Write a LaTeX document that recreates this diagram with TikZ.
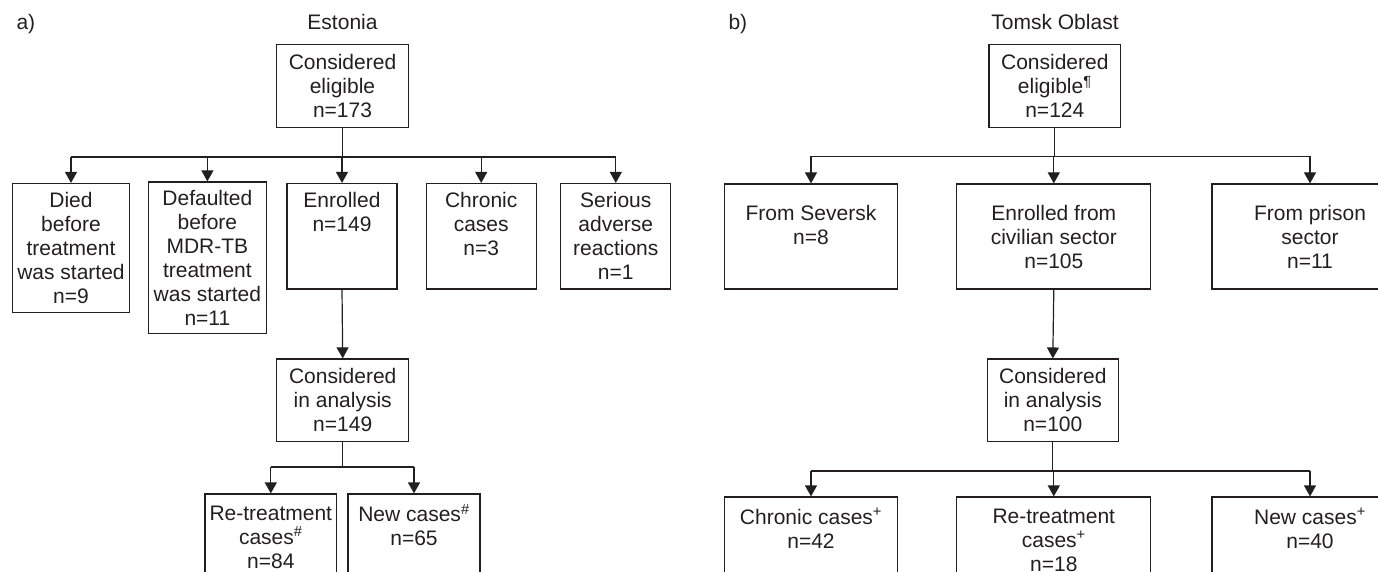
\documentclass[tikz,border=0pt]{standalone}
\usepackage{fontspec}
\setmainfont{Liberation Sans}
\usetikzlibrary{arrows.meta}
\definecolor{ink}{RGB}{35,31,32}
\tikzset{
    box/.style={draw=ink, line width=1.2pt, align=center, inner xsep=2pt, inner ysep=8pt},
    arr/.style={-{Triangle[length=11pt,width=12pt]}, draw=ink, line width=1.2pt},
    link/.style={draw=ink, line width=1.2pt},
}
\begin{document}
\begin{tikzpicture}[x=1pt, y=-1pt, font=\fontsize{21pt}{24pt}\selectfont, text=ink]
        \useasboundingbox (0,0) rectangle (1378,572);
        \clip (0,0) rectangle (1378,572);

        % Estonia
        \node [anchor=base west] (atag) at (13,30) {a)};
        \node [anchor=base] (etitle) at (342.5,30) {Estonia};
        \node [box,
            minimum width=132pt,
            minimum height=83pt,
        ] (elig) at (342.5,86) {Considered\\eligible\\n=173};

        \node [box, minimum width=116.6pt, minimum height=129pt] (died) at (71,248)
            {Died\\before\\treatment\\was started\\n=9};
        \node [box, minimum width=118pt, minimum height=148pt] (deflt) at (207.4,257.6)
            {Defaulted\\before\\MDR-TB\\treatment\\was started\\n=11};
        \node [box, minimum width=110pt, minimum height=105.5pt] (enrol) at (342,236.3)
            {Enrolled\\n=149\\~\\~};
        \node [box, minimum width=110pt, minimum height=105.5pt] (chronic) at (481.2,236.3)
            {Chronic\\cases\\n=3\\~};
        \node [box, minimum width=110pt, minimum height=105.5pt] (serious) at (615.8,236.3)
            {Serious\\adverse\\reactions\\n=1};

        \node [box,
            minimum width=132pt,
            minimum height=82.5pt,
        ] (anal) at (342.7,400.2) {Considered\\in analysis\\n=149};

        \node [box, minimum width=131.7pt, minimum height=86pt] (retr) at (270.8,537)
            {Re-treatment\\cases\textsuperscript{\#}\\n=84};
        \node [box, minimum width=132pt, minimum height=86pt] (newc) at (414,537)
            {New cases\textsuperscript{\#}\\n=65\\~};

        \coordinate (ejoin) at (342.5,157);
        \coordinate (ajoin) at (342.7,467);

        \draw[link] (elig.south) -- (ejoin);
        \draw[link] (ejoin-|died) -- (ejoin-|serious);
        \draw[arr] (ejoin-|died) -- (died.north);
        \draw[arr] (ejoin-|deflt) -- (deflt.north);
        \draw[arr] (ejoin-|enrol) -- (enrol.north);
        \draw[arr] (ejoin-|chronic) -- (chronic.north);
        \draw[arr] (ejoin-|serious) -- (serious.north);

        \draw[arr] (enrol.south) -- (anal.north);

        \draw[link] (anal.south) -- (ajoin);
        \draw[link] (ajoin-|retr) -- (ajoin-|newc);
        \draw[arr] (ajoin-|retr) -- (retr.north);
        \draw[arr] (ajoin-|newc) -- (newc.north);

        % Tomsk Oblast
        \node [anchor=base west] (btag) at (725,30) {b)};
        \node [anchor=base] (ttitle) at (1055,30) {Tomsk Oblast};
        \node [box,
            minimum width=131.7pt,
            minimum height=83pt,
        ] (telig) at (1054.8,86) {Considered\\eligible\textsuperscript{¶}\\n=124};

        \node [box, minimum width=173pt, minimum height=105pt] (sev) at (811,236.5)
            {From Seversk\\n=8\\~};
        \node [box, minimum width=194pt, minimum height=105pt] (civ) at (1053.8,236.5)
            {Enrolled from\\civilian sector\\n=105};
        \node [box, minimum width=196pt, minimum height=105pt] (pris) at (1310,236.5)
            {From prison\\sector\\n=11};

        \node [box,
            minimum width=131pt,
            minimum height=82.5pt,
        ] (tanal) at (1052.8,400.3) {Considered\\in analysis\\n=100};

        \node [box, minimum width=173pt, minimum height=86pt] (tchron) at (811,540)
            {Chronic cases\textsuperscript{+}\\n=42\\~};
        \node [box, minimum width=194pt, minimum height=86pt] (tretr) at (1053.8,540)
            {Re-treatment\\cases\textsuperscript{+}\\n=18};
        \node [box, minimum width=196pt, minimum height=86pt] (tnew) at (1310,540)
            {New cases\textsuperscript{+}\\n=40\\~};

        \coordinate (tjoin) at (1054.8,156.5);
        \coordinate (tajoin) at (1052.8,471);

        \draw[link] (telig.south) -- (tjoin);
        \draw[link] (tjoin-|sev) -- (tjoin-|pris);
        \draw[arr] (tjoin-|sev) -- (sev.north);
        \draw[arr] (tjoin-|civ) -- (civ.north);
        \draw[arr] (tjoin-|pris) -- (pris.north);

        \draw[arr] (civ.south) -- (tanal.north);

        \draw[link] (tanal.south) -- (tajoin);
        \draw[link] (tajoin-|tchron) -- (tajoin-|tnew);
        \draw[arr] (tajoin-|tchron) -- (tchron.north);
        \draw[arr] (tajoin-|tretr) -- (tretr.north);
        \draw[arr] (tajoin-|tnew) -- (tnew.north);
\end{tikzpicture}
\end{document}
